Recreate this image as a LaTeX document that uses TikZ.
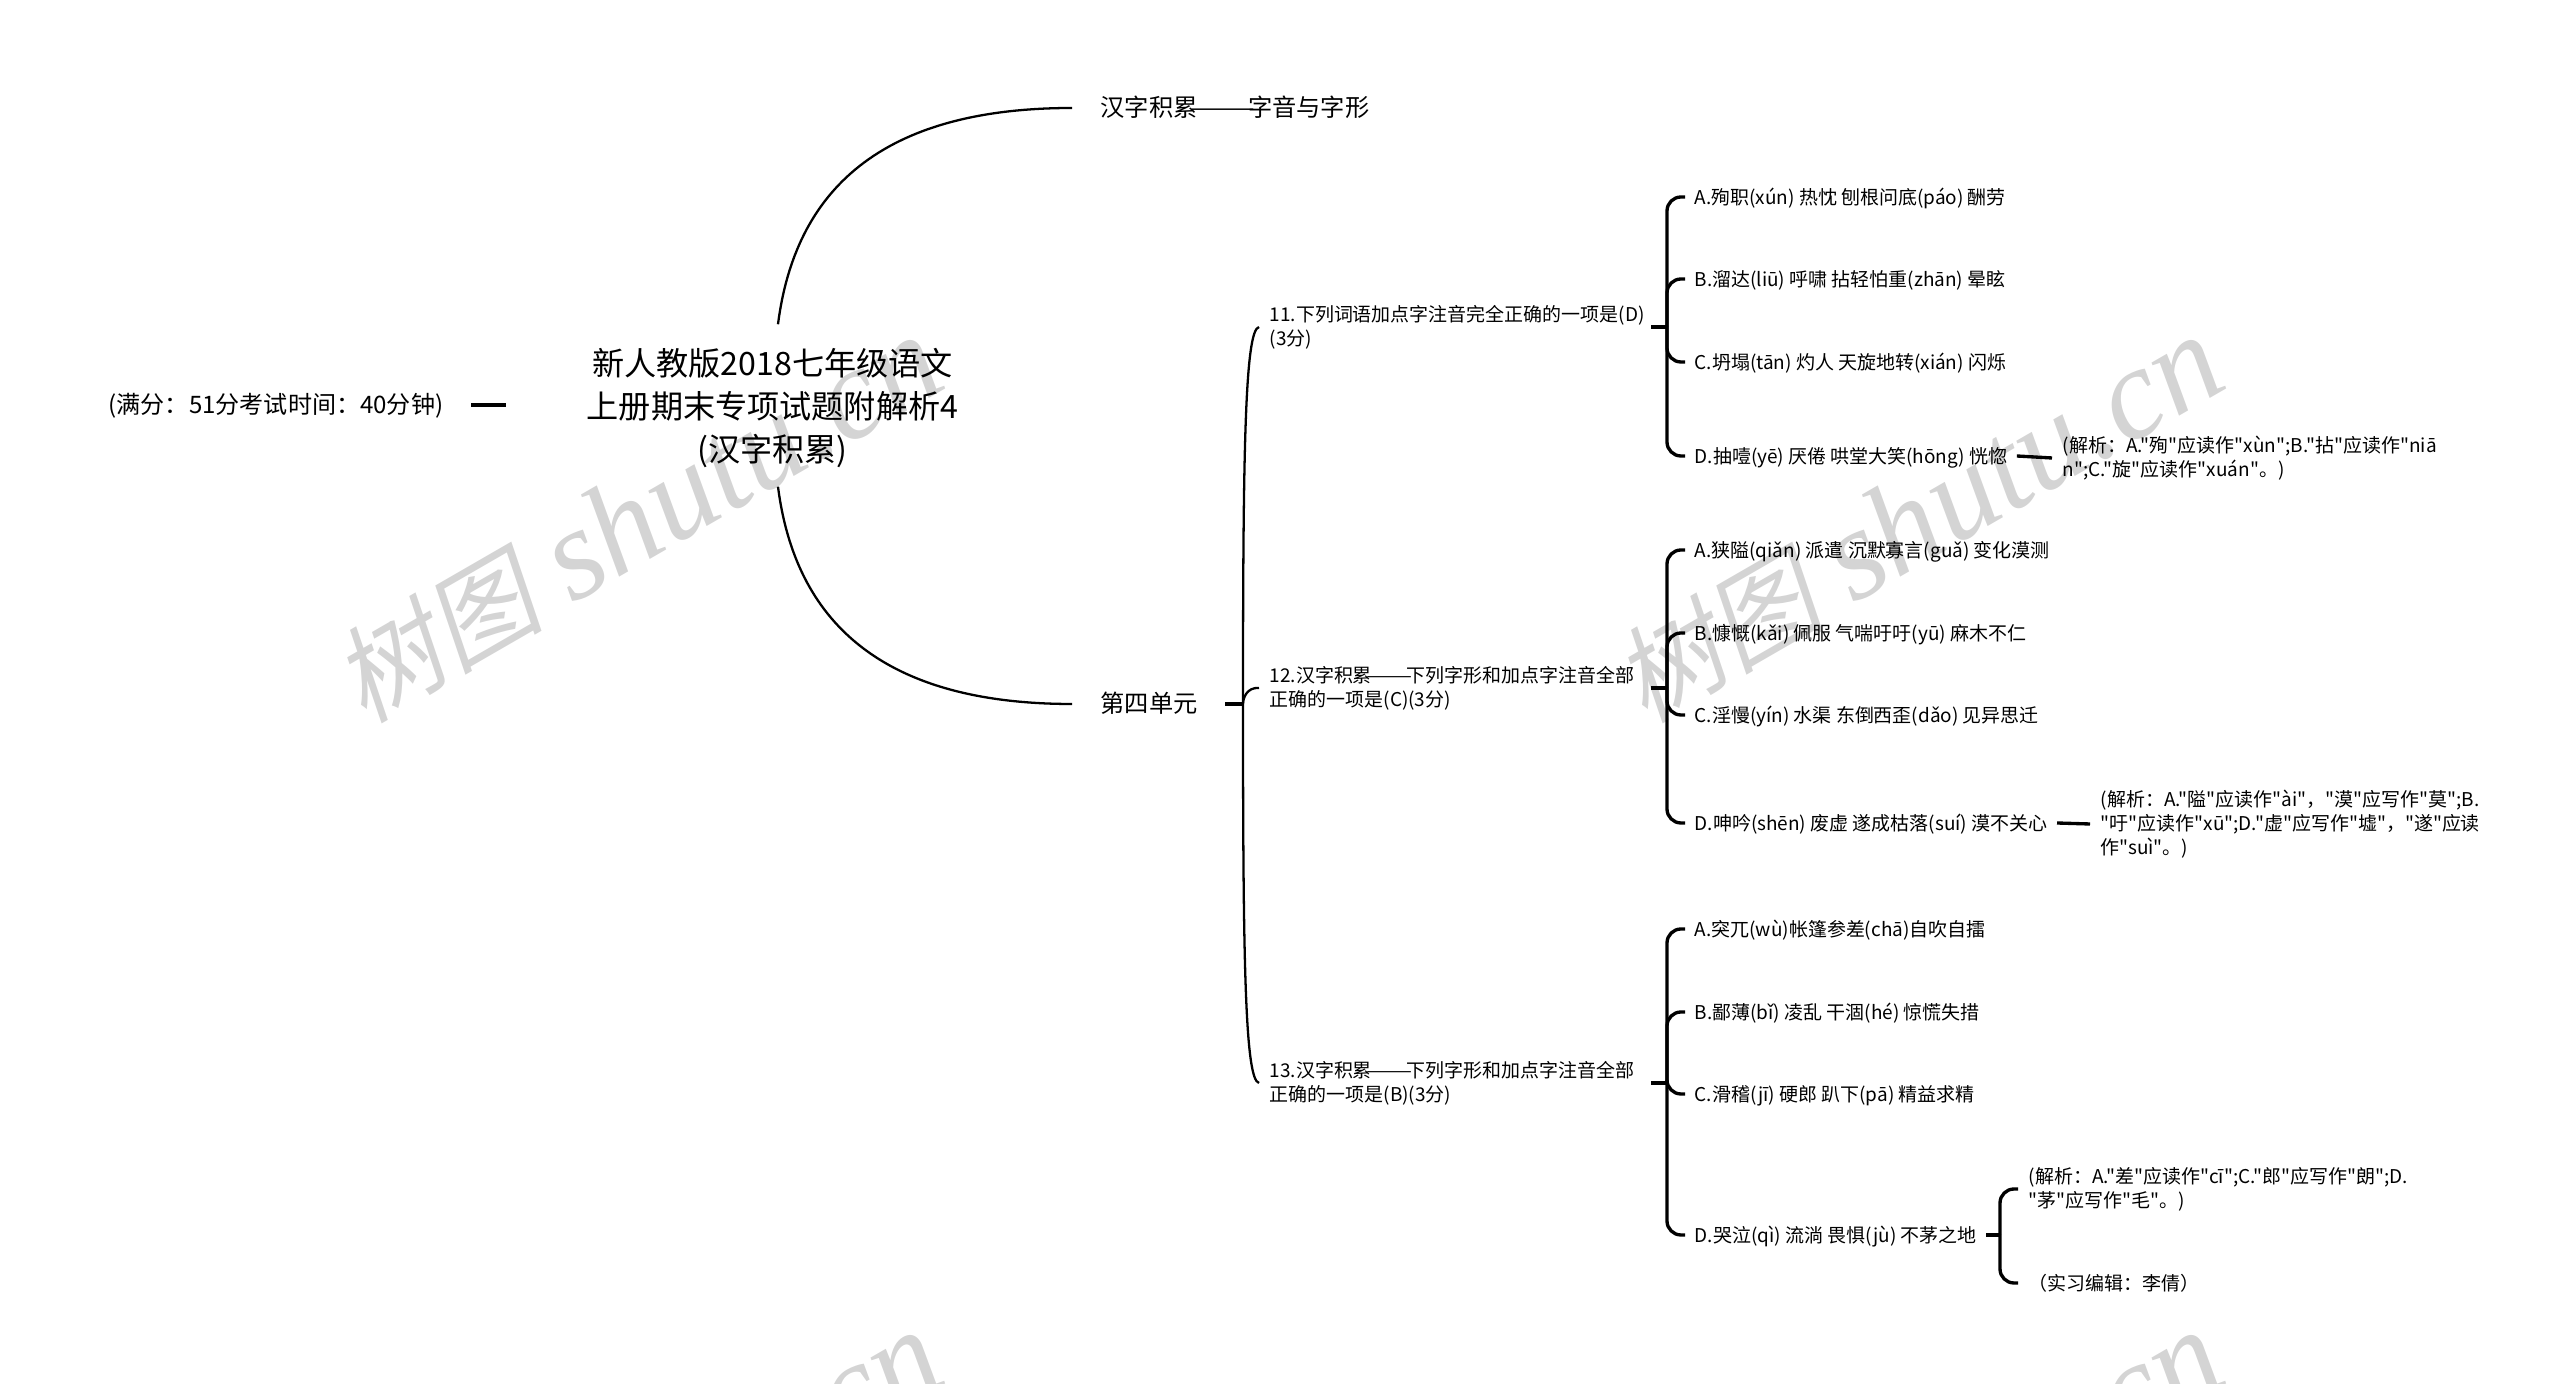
\documentclass[tikz,border=0pt]{standalone}
\usepackage{fontspec}
\setmainfont[Ligatures=TeXOff]{Noto Sans CJK SC}
\newfontfamily\markcjk[FakeSlant=0.2]{Noto Sans CJK SC}
\newfontfamily\marklatin{Liberation Serif Italic}
\newcommand{\wdash}[1]{\kern-0.3em\scalebox{#1}[1]{——}\kern-0.3em}
\newcommand{\wtext}{{\markcjk\fontsize{30}{36}\selectfont 树图} {\marklatin shutu.cn}}
\tikzstyle{wmark}=[text=black!17,rotate=30,inner sep=0pt,font=\fontsize{37}{44}\selectfont]
\tikzstyle{link}=[black,line width=0.95pt]
\tikzstyle{thin}=[black,line width=0.65pt]
\tikzstyle{curve}=[link,rounded corners=0.14cm]
\tikzstyle{rootnode}=[align=center,inner sep=0pt,minimum height=1.61cm,font=\fontsize{9.15}{12.2}\selectfont]
\tikzstyle{topic}=[anchor=west,inner xsep=0.28cm,inner ysep=0pt,text height=0.26cm,text depth=0.08cm,font=\fontsize{6.9}{9}\selectfont]
\tikzstyle{note}=[anchor=west,inner xsep=0pt,inner ysep=0pt,text height=0.26cm,text depth=0.08cm,font=\fontsize{6.85}{9}\selectfont]
\tikzstyle{question}=[anchor=west,align=left,text width=3.71cm,inner xsep=0.1cm,inner ysep=0pt,font=\fontsize{5.4}{6.75}\selectfont]
\tikzstyle{answer}=[anchor=west,inner xsep=0.09cm,inner ysep=0pt,text height=0.2cm,text depth=0.056cm,font=\fontsize{5.4}{6.75}\selectfont]
\tikzstyle{remark}=[anchor=west,align=left,inner xsep=0.1cm,inner ysep=0pt,font=\fontsize{5.4}{6.75}\selectfont]
\begin{document}
\begin{tikzpicture}
\useasboundingbox (0,0) rectangle (25.6,-13.84);
\node[wmark] (m1) at (6.37,-5.2) {\wtext};
\node[wmark] (m2) at (19.18,-5.2) {\wtext};
\node[wmark] (m3) at (6.37,-15.15) {\wtext};
\node[wmark] (m4) at (19.18,-15.15) {\wtext};

\node[rootnode] (root) at (7.725,-4.08) {新人教版2018七年级语文\\上册期末专项试题附解析4\\(汉字积累)};
\node[note] (info) at (1.08,-4.05) {(满分：51分考试时间：40分钟)};
\coordinate (infoa) at (4.71,-4.05);
\coordinate (infob) at (5.06,-4.05);
\node[topic] (t1) at (10.72,-1.08) {汉字积累\wdash{1.6}字音与字形};
\node[topic] (t2) at (10.72,-7.04) {第四单元};
\draw[link] (infoa) -- (infob);
\draw[thin] ([shift={(0.055,0.025)}]root.north) .. controls (7.95,-1.91) and (8.8,-1.08) .. (t1.west);
\draw[thin] ([shift={(0.055,0.025)}]root.south) .. controls (7.95,-6.2) and (8.8,-7.04) .. (t2.west);

\coordinate (t2a) at (12.25,-7.04);
\coordinate (t2b) at (12.43,-7.04);
\node[question] (q11) at (12.59,-3.27) {11.下列词语加点字注音完全正确的一项是(D)\\(3分)};
\node[question] (q12) at (12.59,-6.88) {12.汉字积累\wdash{1.45}下列字形和加点字注音全部\\正确的一项是(C)(3分)};
\node[question] (q13) at (12.59,-10.83) {13.汉字积累\wdash{1.45}下列字形和加点字注音全部\\正确的一项是(B)(3分)};
\draw[link] (t2a) -- (t2b);
\draw[thin] (t2b) .. controls (12.43,-4.5) and (12.45,-3.3) .. (q11.west);
\draw[thin] (t2b) .. controls (12.43,-6.98) and (12.47,-6.87) .. (q12.west);
\draw[thin] (t2b) .. controls (12.43,-9.6) and (12.45,-10.8) .. (q13.west);

\node[answer] (a11) at (16.85,-1.97) {A.殉职(xún) 热忱 刨根问底(páo) 酬劳};
\node[answer] (b11) at (16.85,-2.79) {B.溜达(liū) 呼啸 拈轻怕重(zhān) 晕眩};
\node[answer] (c11) at (16.85,-3.62) {C.坍塌(tān) 灼人 天旋地转(xián) 闪烁};
\node[answer] (d11) at (16.85,-4.56) {D.抽噎(yē) 厌倦 哄堂大笑(hōng) 恍惚};
\node[remark] (e11) at (20.52,-4.58) {(解析：A."殉"应读作"xùn";B."拈"应读作"niā\\n";C."旋"应读作"xuán"。)};
\coordinate (j11) at (16.67,-3.27);
\draw[link] (q11.east) -- (j11);
\draw[curve] (j11) |- (a11.west);
\draw[curve] (j11) |- (b11.west);
\draw[curve] (j11) |- (c11.west);
\draw[curve] (j11) |- (d11.west);
\draw[link] (d11.east) -- (e11.west);

\node[answer] (a12) at (16.85,-5.50) {A.狭隘(qiǎn) 派遣 沉默寡言(guǎ) 变化漠测};
\node[answer] (b12) at (16.85,-6.33) {B.慷慨(kǎi) 佩服 气喘吁吁(yū) 麻木不仁};
\node[answer] (c12) at (16.85,-7.15) {C.淫慢(yín) 水渠 东倒西歪(dǎo) 见异思迁};
\node[answer] (d12) at (16.85,-8.23) {D.呻吟(shēn) 废虚 遂成枯落(suí) 漠不关心};
\node[remark] (e12) at (20.90,-8.24) {(解析：A."隘"应读作"ài"，"漠"应写作"莫";B.\\"吁"应读作"xū";D."虚"应写作"墟"，"遂"应读\\作"suì"。)};
\coordinate (j12) at (16.67,-6.88);
\draw[link] (q12.east) -- (j12);
\draw[curve] (j12) |- (a12.west);
\draw[curve] (j12) |- (b12.west);
\draw[curve] (j12) |- (c12.west);
\draw[curve] (j12) |- (d12.west);
\draw[link] (d12.east) -- (e12.west);

\node[answer] (a13) at (16.85,-9.29) {A.突兀(wù)帐篷参差(chā)自吹自擂};
\node[answer] (b13) at (16.85,-10.12) {B.鄙薄(bǐ) 凌乱 干涸(hé) 惊慌失措};
\node[answer] (c13) at (16.85,-10.94) {C.滑稽(jī) 硬郎 趴下(pā) 精益求精};
\node[answer] (d13) at (16.85,-12.35) {D.哭泣(qì) 流淌 畏惧(jù) 不茅之地};
\node[remark] (e13) at (20.18,-11.89) {(解析：A."差"应读作"cī";C."郎"应写作"朗";D.\\"茅"应写作"毛"。)};
\node[remark] (f13) at (20.18,-12.83) {（实习编辑：李倩）};
\coordinate (j13) at (16.67,-10.83);
\coordinate (k13) at (20.00,-12.35);
\draw[link] (q13.east) -- (j13);
\draw[curve] (j13) |- (a13.west);
\draw[curve] (j13) |- (b13.west);
\draw[curve] (j13) |- (c13.west);
\draw[curve] (j13) |- (d13.west);
\draw[link] (d13.east) -- (k13);
\draw[curve] (k13) |- (e13.west);
\draw[curve] (k13) |- (f13.west);
\end{tikzpicture}
\end{document}
